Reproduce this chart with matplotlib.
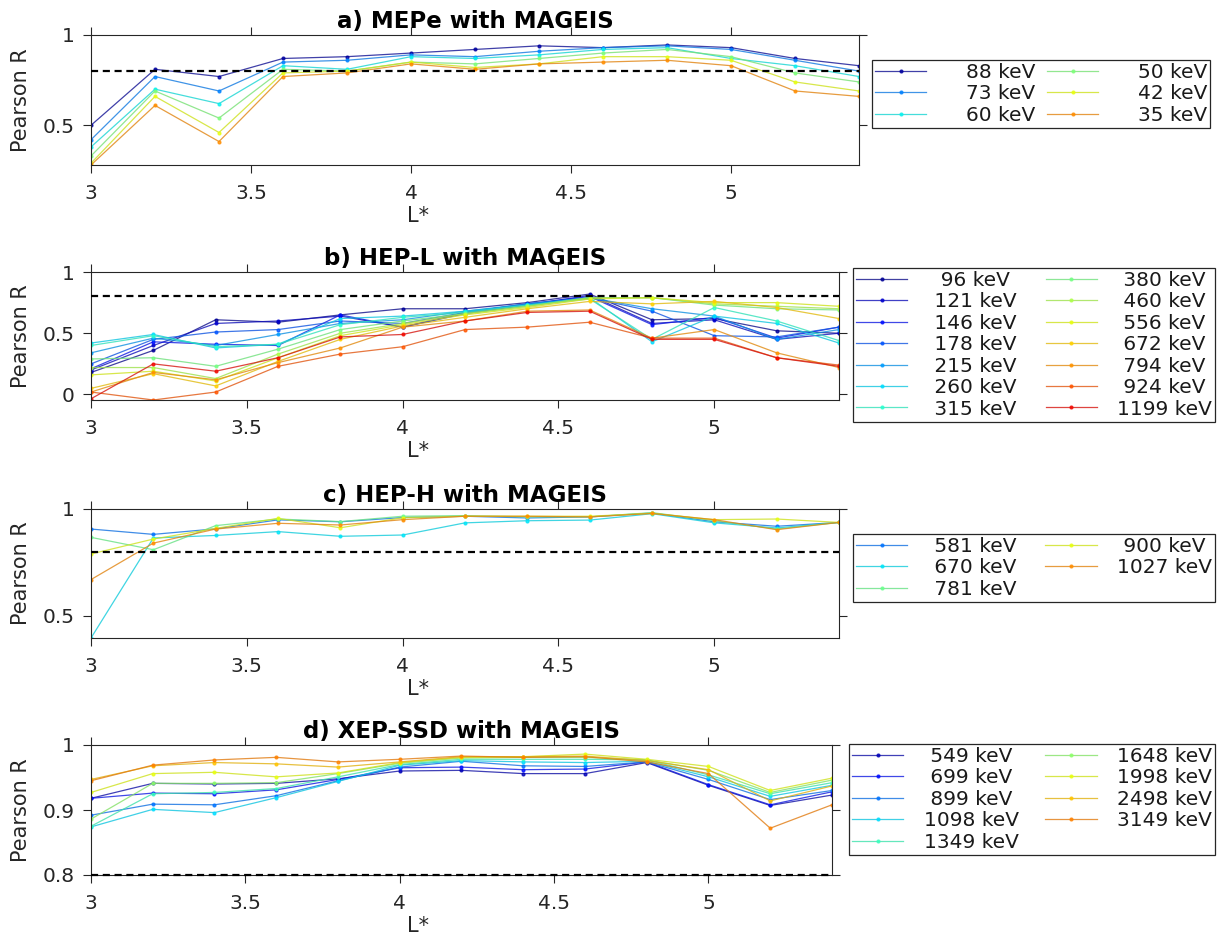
import matplotlib
matplotlib.use("Agg")
import matplotlib.pyplot as plt
import matplotlib.transforms as mtransforms
from matplotlib.ticker import FormatStrFormatter
import numpy as np

L_star = [3.0, 3.2, 3.4, 3.6, 3.8, 4.0, 4.2, 4.4, 4.6, 4.8, 5.0, 5.2, 5.4]

# a) MEPe channels (keV) and correlation per L*
mepe_energies = [88, 73, 60, 50, 42, 35]
mepe_r = [
    [0.50, 0.81, 0.77, 0.87, 0.88, 0.90, 0.92, 0.94, 0.93, 0.945, 0.93, 0.87, 0.83],
    [0.42, 0.77, 0.69, 0.85, 0.86, 0.89, 0.88, 0.91, 0.93, 0.94, 0.92, 0.86, 0.80],
    [0.38, 0.70, 0.62, 0.83, 0.81, 0.88, 0.87, 0.89, 0.92, 0.93, 0.87, 0.83, 0.77],
    [0.33, 0.69, 0.54, 0.81, 0.80, 0.85, 0.84, 0.87, 0.90, 0.92, 0.88, 0.79, 0.74],
    [0.29, 0.66, 0.46, 0.79, 0.80, 0.85, 0.82, 0.84, 0.88, 0.88, 0.86, 0.74, 0.69],
    [0.28, 0.61, 0.41, 0.77, 0.79, 0.84, 0.81, 0.84, 0.85, 0.86, 0.83, 0.69, 0.66],
]

# b) HEP-L
hepl_energies = [96, 121, 146, 178, 215, 260, 315, 380, 460, 556, 672, 794, 924, 1199]
hepl_r = [
    [0.18, 0.36, 0.61, 0.59, 0.65, 0.70, 0.70, 0.75, 0.82, 0.61, 0.62, 0.52, 0.50],
    [0.20, 0.40, 0.58, 0.60, 0.64, 0.55, 0.66, 0.73, 0.81, 0.58, 0.61, 0.45, 0.50],
    [0.21, 0.43, 0.41, 0.40, 0.65, 0.55, 0.67, 0.74, 0.80, 0.57, 0.63, 0.46, 0.55],
    [0.25, 0.45, 0.51, 0.53, 0.60, 0.58, 0.67, 0.74, 0.79, 0.68, 0.48, 0.47, 0.55],
    [0.34, 0.46, 0.40, 0.49, 0.58, 0.61, 0.68, 0.74, 0.79, 0.70, 0.64, 0.45, 0.53],
    [0.42, 0.49, 0.38, 0.41, 0.62, 0.64, 0.68, 0.73, 0.79, 0.43, 0.64, 0.58, 0.42],
    [0.40, 0.48, 0.39, 0.41, 0.57, 0.63, 0.67, 0.73, 0.78, 0.45, 0.71, 0.60, 0.44],
    [0.29, 0.30, 0.23, 0.37, 0.53, 0.60, 0.66, 0.72, 0.79, 0.79, 0.73, 0.70, 0.69],
    [0.22, 0.22, 0.13, 0.33, 0.50, 0.58, 0.66, 0.72, 0.79, 0.79, 0.74, 0.72, 0.70],
    [0.16, 0.19, 0.11, 0.30, 0.48, 0.57, 0.65, 0.71, 0.78, 0.79, 0.75, 0.75, 0.72],
    [0.05, 0.17, 0.07, 0.27, 0.45, 0.56, 0.63, 0.70, 0.76, 0.74, 0.76, 0.71, 0.62],
    [0.02, 0.18, 0.12, 0.26, 0.38, 0.55, 0.60, 0.68, 0.69, 0.46, 0.53, 0.34, 0.22],
    [0.02, -0.045, 0.02, 0.23, 0.33, 0.39, 0.53, 0.55, 0.59, 0.46, 0.46, 0.30, 0.24],
    [-0.035, 0.25, 0.19, 0.30, 0.47, 0.49, 0.60, 0.67, 0.68, 0.45, 0.45, 0.30, 0.23],
]

# c) HEP-H
heph_energies = [581, 670, 781, 900, 1027]
heph_r = [
    [0.906, 0.881, 0.907, 0.949, 0.940, 0.960, 0.966, 0.958, 0.963, 0.981, 0.940, 0.919, 0.937],
    [0.395, 0.864, 0.876, 0.894, 0.872, 0.878, 0.935, 0.945, 0.948, 0.978, 0.935, 0.911, 0.937],
    [0.867, 0.809, 0.922, 0.953, 0.941, 0.966, 0.969, 0.963, 0.963, 0.983, 0.945, 0.906, 0.937],
    [0.789, 0.859, 0.909, 0.956, 0.912, 0.959, 0.966, 0.966, 0.966, 0.980, 0.950, 0.953, 0.937],
    [0.669, 0.840, 0.906, 0.933, 0.925, 0.950, 0.966, 0.966, 0.963, 0.979, 0.950, 0.903, 0.937],
]

# d) XEP-SSD
xep_energies = [549, 699, 899, 1098, 1349, 1648, 1998, 2498, 3149]
xep_r = [
    [0.918, 0.941, 0.940, 0.941, 0.948, 0.960, 0.961, 0.956, 0.956, 0.973, 0.938, 0.907, 0.923],
    [0.918, 0.926, 0.925, 0.931, 0.947, 0.965, 0.966, 0.962, 0.963, 0.974, 0.939, 0.908, 0.928],
    [0.892, 0.909, 0.908, 0.922, 0.945, 0.966, 0.975, 0.968, 0.967, 0.974, 0.947, 0.916, 0.930],
    [0.874, 0.901, 0.896, 0.919, 0.944, 0.969, 0.976, 0.974, 0.973, 0.975, 0.951, 0.921, 0.938],
    [0.875, 0.925, 0.927, 0.933, 0.951, 0.970, 0.978, 0.978, 0.978, 0.977, 0.954, 0.925, 0.942],
    [0.886, 0.941, 0.941, 0.942, 0.956, 0.972, 0.980, 0.981, 0.981, 0.977, 0.961, 0.927, 0.946],
    [0.927, 0.956, 0.958, 0.951, 0.957, 0.973, 0.981, 0.982, 0.986, 0.978, 0.967, 0.930, 0.949],
    [0.947, 0.968, 0.973, 0.971, 0.966, 0.974, 0.982, 0.982, 0.983, 0.976, 0.962, 0.914, 0.937],
    [0.945, 0.969, 0.977, 0.981, 0.974, 0.978, 0.983, 0.981, 0.982, 0.974, 0.956, 0.872, 0.908],
]

panels = [
    # title, energies, values, jet positions, axes box (px), yticks,
    # legend anchor (px), handletextpad, expand legend to width?
    ("a) MEPe with MAGEIS", mepe_energies, mepe_r,
     [0.03, 0.25, 0.36, 0.50, 0.63, 0.76], (91, 35, 859, 165), [0.5, 1],
     (872, 60, 343), 1.95, False),
    ("b) HEP-L with MAGEIS", hepl_energies, hepl_r,
     [0.02, 0.07, 0.14, 0.21, 0.28, 0.34, 0.40, 0.49, 0.56, 0.63, 0.69, 0.75, 0.82, 0.90],
     (91, 272, 839, 400), [0, 0.5, 1], (853, 268, 362), 1.0, True),
    ("c) HEP-H with MAGEIS", heph_energies, heph_r,
     [0.24, 0.35, 0.48, 0.63, 0.76], (91, 509, 839, 638), [0.5, 1],
     (853, 534, 362), 1.0, True),
    ("d) XEP-SSD with MAGEIS", xep_energies, xep_r,
     [0.05, 0.14, 0.24, 0.34, 0.42, 0.52, 0.63, 0.70, 0.77], (91, 745, 832, 875), [0.8, 0.9, 1],
     (849, 744, 366), 1.0, True),
]

W, H = 1217, 943
fig = plt.figure(figsize=(W / 100, H / 100), dpi=100)
dark = "#262626"
plt.rcParams["font.family"] = "DejaVu Sans"

for title, energies, values, cpos, box, yticks, leg_px, tpad, expand in panels:
    x0, y0, x1, y1 = box
    ax = fig.add_axes([x0 / W, 1 - y1 / H, (x1 - x0) / W, (y1 - y0) / H])
    ndig = max(len(str(e)) for e in energies)
    for e, r, c in zip(energies, values, cpos):
        base = np.array(plt.cm.jet(c)[:3])
        # slightly muted jet colour for the connecting lines
        line_col = 0.82 * base + 0.18 * 0.35
        # centred legend text: half a digit of padding per missing digit
        label = "\u2008" * (ndig - len(str(e))) + f"{e} keV"
        ax.plot(L_star, r, "-", color=line_col, lw=0.9, alpha=0.8,
                marker=".", markersize=4, markerfacecolor=base, markeredgecolor=base,
                label=label)
    ax.axhline(0.8, color="k", ls="--", lw=1.6, dashes=(3.2, 2.1), clip_on=False, zorder=5)

    ymin = min(min(min(r) for r in values), 0.8)
    ax.set_xlim(3, 5.4)
    ax.set_ylim(ymin, 1.0)
    ax.set_xticks([3, 3.5, 4, 4.5, 5])
    ax.set_yticks(yticks)
    ax.xaxis.set_major_formatter(FormatStrFormatter("%g"))
    ax.yaxis.set_major_formatter(FormatStrFormatter("%g"))
    ax.tick_params(direction="out", length=6, width=0.8, colors=dark,
                   labelsize=14.5, top=True, right=True)
    ax.tick_params(axis="x", pad=8)
    ax.tick_params(axis="y", pad=6)
    for sp in ax.spines.values():
        sp.set_color(dark)
        sp.set_linewidth(0.8)

    ax.set_title(title, fontsize=16.5, fontweight="bold", pad=5)
    ax.set_ylabel("Pearson R", fontsize=15, color=dark)
    ax.set_xlabel("L*", fontsize=15, color=dark)
    hpx = y1 - y0
    ax.yaxis.set_label_coords(31 / W, 0.5,
                              transform=mtransforms.blended_transform_factory(fig.transFigure, ax.transAxes))
    ax.xaxis.set_label_coords(418 / W, -41 / hpx,
                              transform=mtransforms.blended_transform_factory(fig.transFigure, ax.transAxes))

    lx, ly, lw_px = leg_px
    if expand:
        anchor = dict(bbox_to_anchor=(lx / W, 1 - ly / H, lw_px / W, 0.0), mode="expand")
    else:
        anchor = dict(bbox_to_anchor=(lx / W, 1 - ly / H))
    leg = ax.legend(loc="upper left", bbox_transform=fig.transFigure, ncol=2,
                    fontsize=14.5, handlelength=2.55, handletextpad=tpad,
                    labelspacing=0.12, borderpad=0.15, columnspacing=0.6,
                    borderaxespad=0, numpoints=1, fancybox=False, framealpha=1,
                    **anchor)
    leg.get_frame().set_edgecolor(dark)
    leg.get_frame().set_linewidth(0.9)
    for t in leg.get_texts():
        t.set_color("#1a1a1a")

fig.savefig("out.png", dpi=100)
